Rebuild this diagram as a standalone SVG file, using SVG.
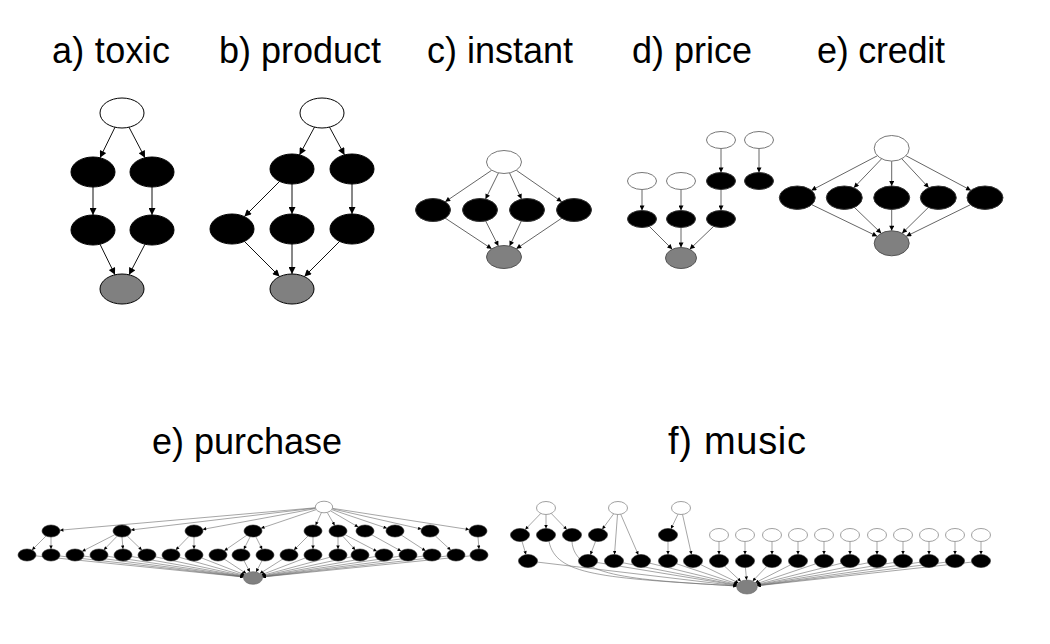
<svg xmlns="http://www.w3.org/2000/svg" width="1050" height="644" viewBox="0 0 1050 644">
<defs>
<style>
.t{font-family:"Liberation Sans",Arial,sans-serif;font-size:36px;fill:#000}
.w{fill:#fff;stroke:#000;stroke-width:1}
.b{fill:#000;stroke:#000;stroke-width:1}
.g{fill:#808080;stroke:#000;stroke-width:1}
.w2{fill:#fff;stroke:#777;stroke-width:1}
.b2{fill:#000;stroke:#333;stroke-width:1}
.g2{fill:#808080;stroke:#555;stroke-width:1}
.w3{fill:#fff;stroke:#888;stroke-width:0.8}
.b3{fill:#000;stroke:#222;stroke-width:0.6}
.g3{fill:#808080;stroke:#666;stroke-width:0.6}
.e1{stroke:#111;stroke-width:1;fill:none;marker-end:url(#ah1)}
.e2{stroke:#666;stroke-width:1;fill:none;marker-end:url(#ah2)}
.e3{stroke:#6a6a6a;stroke-width:0.6;fill:none;marker-end:url(#ah3)}
</style>
<marker id="ah1" viewBox="0 0 10 10" refX="10" refY="5" markerUnits="userSpaceOnUse" markerWidth="10" markerHeight="7" orient="auto"><path d="M0,0 L10,5 L0,10 z" fill="#000"/></marker>
<marker id="ah2" viewBox="0 0 10 10" refX="10" refY="5" markerUnits="userSpaceOnUse" markerWidth="7" markerHeight="5" orient="auto"><path d="M0,0 L10,5 L0,10 z" fill="#000"/></marker>
<marker id="ah3" viewBox="0 0 10 10" refX="10" refY="5" markerUnits="userSpaceOnUse" markerWidth="4.5" markerHeight="3.5" orient="auto"><path d="M0,0 L10,5 L0,10 z" fill="#000"/></marker>
</defs>
<rect width="1050" height="644" fill="#fff"/>

<g id="titles">
<text class="t" x="52" y="63" textLength="118" lengthAdjust="spacing">a) toxic</text>
<text class="t" x="219" y="63" textLength="162" lengthAdjust="spacing">b) product</text>
<text class="t" x="427" y="63" textLength="146" lengthAdjust="spacing">c) instant</text>
<text class="t" x="632" y="63" textLength="120" lengthAdjust="spacing">d) price</text>
<text class="t" x="817" y="63" textLength="128" lengthAdjust="spacing">e) credit</text>
<text class="t" x="152" y="454" textLength="190" lengthAdjust="spacing">e) purchase</text>
<text class="t" x="668" y="454" style="font-size:38px" textLength="138" lengthAdjust="spacing">f) music</text>
</g>

<g id="connectors">
<!-- toxic -->
<line class="e1" x1="115" y1="127.2" x2="100" y2="157.8"/>
<line class="e1" x1="129" y1="127.2" x2="145" y2="157.8"/>
<line class="e1" x1="93" y1="187" x2="93" y2="215"/>
<line class="e1" x1="152" y1="187" x2="152" y2="215"/>
<line class="e1" x1="100" y1="244.2" x2="115" y2="274.8"/>
<line class="e1" x1="145" y1="244.2" x2="129" y2="274.8"/>
<!-- product -->
<line class="e1" x1="314.5" y1="127.1" x2="299.5" y2="154.9"/>
<line class="e1" x1="329.5" y1="127.1" x2="344.5" y2="154.9"/>
<line class="e1" x1="279.6" y1="181.4" x2="244.4" y2="216.6"/>
<line class="e1" x1="292" y1="184" x2="292" y2="214"/>
<line class="e1" x1="352" y1="184" x2="352" y2="214"/>
<line class="e1" x1="244.4" y1="241.4" x2="279.6" y2="276.6"/>
<line class="e1" x1="292" y1="244" x2="292" y2="274"/>
<line class="e1" x1="339.6" y1="241.4" x2="304.4" y2="276.6"/>
<!-- instant -->
<line class="e2" x1="491.8" y1="170.2" x2="445.2" y2="201.8"/>
<line class="e2" x1="498.5" y1="172.9" x2="485.5" y2="199.1"/>
<line class="e2" x1="509.5" y1="172.9" x2="521.5" y2="199.1"/>
<line class="e2" x1="516.2" y1="170.2" x2="561.8" y2="201.8"/>
<line class="e2" x1="445.3" y1="218.2" x2="491.7" y2="248.8"/>
<line class="e2" x1="485.6" y1="220.9" x2="498.4" y2="246.1"/>
<line class="e2" x1="521.4" y1="220.9" x2="509.6" y2="246.1"/>
<line class="e2" x1="561.7" y1="218.2" x2="516.3" y2="248.8"/>
<!-- price -->
<line class="e2" x1="721" y1="148.5" x2="721" y2="172.5"/>
<line class="e2" x1="759" y1="148.5" x2="759" y2="172.5"/>
<line class="e2" x1="721" y1="189.5" x2="721" y2="210.5"/>
<line class="e2" x1="642" y1="189.5" x2="642" y2="210.5"/>
<line class="e2" x1="681" y1="189.5" x2="681" y2="210.5"/>
<line class="e2" x1="649.3" y1="226.3" x2="672.3" y2="249.3"/>
<line class="e2" x1="681" y1="227.5" x2="681" y2="247.5"/>
<line class="e2" x1="713.7" y1="226.3" x2="689.7" y2="249.3"/>
<!-- credit -->
<line class="e2" x1="877.5" y1="155.7" x2="811.3" y2="190.4"/>
<line class="e2" x1="881.6" y1="158.8" x2="853.8" y2="187.8"/>
<line class="e2" x1="891.7" y1="161.1" x2="891.7" y2="186"/>
<line class="e2" x1="901.8" y1="158.8" x2="928.8" y2="187.8"/>
<line class="e2" x1="905.9" y1="155.7" x2="971" y2="190.4"/>
<line class="e2" x1="811.8" y1="204.7" x2="877.2" y2="236.3"/>
<line class="e2" x1="854.4" y1="207.4" x2="881.3" y2="233.3"/>
<line class="e2" x1="891.7" y1="209.4" x2="891.7" y2="230.8"/>
<line class="e2" x1="928.4" y1="207.4" x2="902.1" y2="233.3"/>
<line class="e2" x1="970.5" y1="204.7" x2="906.2" y2="236.3"/>
<!-- purchase: root to row 1 -->
<line class="e3" x1="315.1" y1="507.8" x2="59.9" y2="530.2"/>
<line class="e3" x1="315.1" y1="508.1" x2="130.9" y2="530"/>
<line class="e3" x1="315.3" y1="508.6" x2="202.7" y2="529.4"/>
<line class="e3" x1="316" y1="509.7" x2="261" y2="528.3"/>
<line class="e3" x1="321.4" y1="512.7" x2="315.6" y2="525.3"/>
<line class="e3" x1="327.3" y1="512.6" x2="334.7" y2="525.4"/>
<line class="e3" x1="330.8" y1="511" x2="358.2" y2="527"/>
<line class="e3" x1="332" y1="509.7" x2="387" y2="528.3"/>
<line class="e3" x1="332.5" y1="508.9" x2="421.5" y2="529.1"/>
<line class="e3" x1="332.8" y1="508.4" x2="469.2" y2="529.6"/>
<!-- purchase: row 1 to row 2 -->
<line class="e3" x1="46" y1="536" x2="32" y2="550"/>
<line class="e3" x1="51" y1="537" x2="51" y2="549"/>
<line class="e3" x1="114.9" y1="534.6" x2="82.1" y2="551.4"/>
<line class="e3" x1="117.2" y1="536.1" x2="103.8" y2="549.9"/>
<line class="e3" x1="122" y1="537" x2="123" y2="549"/>
<line class="e3" x1="127.1" y1="535.9" x2="141.9" y2="550.1"/>
<line class="e3" x1="189.2" y1="536.1" x2="175.8" y2="549.9"/>
<line class="e3" x1="194" y1="537" x2="194" y2="549"/>
<line class="e3" x1="246.7" y1="535.3" x2="224.3" y2="550.7"/>
<line class="e3" x1="250.2" y1="536.7" x2="243.8" y2="549.3"/>
<line class="e3" x1="255.8" y1="536.7" x2="262.2" y2="549.3"/>
<line class="e3" x1="308" y1="536" x2="294" y2="550"/>
<line class="e3" x1="313" y1="537" x2="313" y2="549"/>
<line class="e3" x1="338" y1="537" x2="338" y2="549"/>
<line class="e3" x1="342.7" y1="536.1" x2="355.3" y2="549.9"/>
<line class="e3" x1="345.1" y1="534.7" x2="376.9" y2="551.3"/>
<line class="e3" x1="371.9" y1="534.9" x2="401.1" y2="551.1"/>
<line class="e3" x1="401.5" y1="535.2" x2="425.5" y2="550.8"/>
<line class="e3" x1="435.3" y1="535.9" x2="450.7" y2="550.1"/>
<line class="e3" x1="478" y1="537" x2="479" y2="549"/>
<!-- purchase: row 2 to sink -->
<line class="e3" x1="35.9" y1="555.9" x2="243.6" y2="577"/>
<line class="e3" x1="59.9" y1="556" x2="243.6" y2="576.9"/>
<line class="e3" x1="83.8" y1="556.1" x2="243.7" y2="576.8"/>
<line class="e3" x1="107.8" y1="556.3" x2="243.7" y2="576.6"/>
<line class="e3" x1="131.7" y1="556.5" x2="243.8" y2="576.4"/>
<line class="e3" x1="155.6" y1="556.9" x2="244" y2="576"/>
<line class="e3" x1="179.3" y1="557.3" x2="244.3" y2="575.5"/>
<line class="e3" x1="201.8" y1="558" x2="244.8" y2="574.8"/>
<line class="e3" x1="224.4" y1="559.2" x2="246.3" y2="573.6"/>
<line class="e3" x1="244" y1="560.7" x2="249.9" y2="572"/>
<line class="e3" x1="262" y1="560.7" x2="256.1" y2="572"/>
<line class="e3" x1="282.5" y1="559.2" x2="259.8" y2="573.6"/>
<line class="e3" x1="305.2" y1="558" x2="261.2" y2="574.9"/>
<line class="e3" x1="329.7" y1="557.3" x2="261.8" y2="575.6"/>
<line class="e3" x1="351.4" y1="556.8" x2="262" y2="576.1"/>
<line class="e3" x1="375.3" y1="556.5" x2="262.2" y2="576.4"/>
<line class="e3" x1="399.2" y1="556.3" x2="262.3" y2="576.6"/>
<line class="e3" x1="423.2" y1="556.1" x2="262.3" y2="576.8"/>
<line class="e3" x1="447.1" y1="556" x2="262.4" y2="576.9"/>
<line class="e3" x1="470.1" y1="555.9" x2="262.4" y2="577"/>
<!-- music -->
<line class="e3" x1="540.8" y1="513.4" x2="525.2" y2="529.6"/>
<line class="e3" x1="546" y1="514.5" x2="546" y2="528.5"/>
<line class="e3" x1="551.2" y1="513.4" x2="566.8" y2="529.6"/>
<line class="e3" x1="522" y1="541.4" x2="526" y2="554.6"/>
<path class="e3" d="M549,541.5 C556,575 600,578 737,586"/>
<path class="e3" d="M572,541.5 C574,578 640,580 737,586"/>
<line class="e3" x1="613.7" y1="513.8" x2="602.3" y2="529.2"/>
<line class="e3" x1="617.5" y1="514.5" x2="614.5" y2="554.5"/>
<line class="e3" x1="620.7" y1="514.2" x2="638.3" y2="554.8"/>
<line class="e3" x1="595.6" y1="541.3" x2="590.4" y2="554.7"/>
<line class="e3" x1="678" y1="514.2" x2="671" y2="528.8"/>
<line class="e3" x1="682.5" y1="514.4" x2="691.5" y2="554.6"/>
<line class="e3" x1="668" y1="541.5" x2="668" y2="554.5"/>
<line class="e3" x1="719" y1="541.5" x2="719" y2="554.5"/>
<line class="e3" x1="745" y1="541.5" x2="745" y2="554.5"/>
<line class="e3" x1="772" y1="541.5" x2="772" y2="554.5"/>
<line class="e3" x1="798" y1="541.5" x2="798" y2="554.5"/>
<line class="e3" x1="824" y1="541.5" x2="824" y2="554.5"/>
<line class="e3" x1="850" y1="541.5" x2="850" y2="554.5"/>
<line class="e3" x1="877" y1="541.5" x2="877" y2="554.5"/>
<line class="e3" x1="903" y1="541.5" x2="903" y2="554.5"/>
<line class="e3" x1="929" y1="541.5" x2="929" y2="554.5"/>
<line class="e3" x1="955" y1="541.5" x2="955" y2="554.5"/>
<line class="e3" x1="981" y1="541.5" x2="981" y2="554.5"/>
<line class="e3" x1="537.4" y1="562.1" x2="736.9" y2="585.8"/>
<line class="e3" x1="597.2" y1="562.5" x2="737" y2="585.4"/>
<line class="e3" x1="623.1" y1="562.8" x2="737.1" y2="585.1"/>
<line class="e3" x1="649.9" y1="563.2" x2="737.3" y2="584.6"/>
<line class="e3" x1="676.6" y1="563.8" x2="737.7" y2="584"/>
<line class="e3" x1="700.8" y1="564.7" x2="738.6" y2="583"/>
<line class="e3" x1="724.6" y1="566.2" x2="740.9" y2="581.4"/>
<line class="e3" x1="745.4" y1="567.5" x2="746.6" y2="580"/>
<line class="e3" x1="766.8" y1="566.4" x2="752.6" y2="581.1"/>
<line class="e3" x1="790.4" y1="564.9" x2="755.2" y2="582.8"/>
<line class="e3" x1="815.5" y1="563.9" x2="756.2" y2="583.9"/>
<line class="e3" x1="841.1" y1="563.3" x2="756.7" y2="584.6"/>
<line class="e3" x1="867.9" y1="562.8" x2="756.9" y2="585"/>
<line class="e3" x1="893.8" y1="562.5" x2="757" y2="585.3"/>
<line class="e3" x1="919.7" y1="562.3" x2="757.1" y2="585.6"/>
<line class="e3" x1="945.7" y1="562.2" x2="757.1" y2="585.7"/>
<line class="e3" x1="971.6" y1="562.1" x2="757.2" y2="585.8"/>
</g>

<!-- a) toxic -->
<g id="toxic-root"><ellipse class="w" cx="122" cy="113" rx="22" ry="15"/></g>
<g id="toxic-n1"><ellipse class="b" cx="93" cy="172" rx="22" ry="15"/></g>
<g id="toxic-n2"><ellipse class="b" cx="152" cy="172" rx="22" ry="15"/></g>
<g id="toxic-n3"><ellipse class="b" cx="93" cy="230" rx="22" ry="15"/></g>
<g id="toxic-n4"><ellipse class="b" cx="152" cy="230" rx="22" ry="15"/></g>
<g id="toxic-sink"><ellipse class="g" cx="122" cy="289" rx="22" ry="15"/></g>

<!-- b) product -->
<g id="product-root"><ellipse class="w" cx="322" cy="113" rx="22" ry="15"/></g>
<g id="product-n1"><ellipse class="b" cx="292" cy="169" rx="22" ry="15"/></g>
<g id="product-n2"><ellipse class="b" cx="352" cy="169" rx="22" ry="15"/></g>
<g id="product-n3"><ellipse class="b" cx="232" cy="229" rx="22" ry="15"/></g>
<g id="product-n4"><ellipse class="b" cx="292" cy="229" rx="22" ry="15"/></g>
<g id="product-n5"><ellipse class="b" cx="352" cy="229" rx="22" ry="15"/></g>
<g id="product-sink"><ellipse class="g" cx="292" cy="289" rx="22" ry="15"/></g>

<!-- c) instant -->
<g id="instant-root"><ellipse class="w2" cx="504" cy="162" rx="17.5" ry="11.5"/></g>
<g id="instant-n1"><ellipse class="b2" cx="433" cy="210" rx="17.5" ry="11.5"/></g>
<g id="instant-n2"><ellipse class="b2" cx="480" cy="210" rx="17.5" ry="11.5"/></g>
<g id="instant-n3"><ellipse class="b2" cx="527" cy="210" rx="17.5" ry="11.5"/></g>
<g id="instant-n4"><ellipse class="b2" cx="574" cy="210" rx="17.5" ry="11.5"/></g>
<g id="instant-sink"><ellipse class="g2" cx="504" cy="257" rx="17.5" ry="11.5"/></g>

<!-- d) price -->
<g id="price-w1"><ellipse class="w2" cx="721" cy="140" rx="14.5" ry="8.5"/></g>
<g id="price-w2"><ellipse class="w2" cx="759" cy="140" rx="14.5" ry="8.5"/></g>
<g id="price-b1"><ellipse class="b2" cx="721" cy="181" rx="14.5" ry="8.5"/></g>
<g id="price-b2"><ellipse class="b2" cx="759" cy="181" rx="14.5" ry="8.5"/></g>
<g id="price-w3"><ellipse class="w2" cx="642" cy="181" rx="14.5" ry="8.5"/></g>
<g id="price-w4"><ellipse class="w2" cx="681" cy="181" rx="14.5" ry="8.5"/></g>
<g id="price-b3"><ellipse class="b2" cx="642" cy="219" rx="14.5" ry="8.5"/></g>
<g id="price-b4"><ellipse class="b2" cx="681" cy="219" rx="14.5" ry="8.5"/></g>
<g id="price-b5"><ellipse class="b2" cx="721" cy="219" rx="14.5" ry="8.5"/></g>
<g id="price-sink"><ellipse class="g2" cx="681" cy="258" rx="15.5" ry="10.5"/></g>

<!-- e) credit -->
<g id="credit-root"><ellipse class="w2" cx="891.7" cy="148.3" rx="17.5" ry="12.8"/></g>
<g id="credit-n1"><ellipse class="b2" cx="797.3" cy="197.7" rx="18" ry="11.7"/></g>
<g id="credit-n2"><ellipse class="b2" cx="844.3" cy="197.7" rx="18" ry="11.7"/></g>
<g id="credit-n3"><ellipse class="b2" cx="891.7" cy="197.7" rx="18" ry="11.7"/></g>
<g id="credit-n4"><ellipse class="b2" cx="938.3" cy="197.7" rx="18" ry="11.7"/></g>
<g id="credit-n5"><ellipse class="b2" cx="985" cy="197.7" rx="18" ry="11.7"/></g>
<g id="credit-sink"><ellipse class="g2" cx="891.7" cy="243.3" rx="17.5" ry="12.5"/></g>

<!-- e) purchase -->
<g id="purchase-root"><ellipse class="w3" cx="324" cy="507" rx="8.7" ry="5.8"/></g>
<g id="purchase-r1">
<ellipse class="b3" cx="51" cy="531" rx="9" ry="6"/>
<ellipse class="b3" cx="122" cy="531" rx="9" ry="6"/>
<ellipse class="b3" cx="194" cy="531" rx="9" ry="6"/>
<ellipse class="b3" cx="253" cy="531" rx="9" ry="6"/>
<ellipse class="b3" cx="313" cy="531" rx="9" ry="6"/>
<ellipse class="b3" cx="338" cy="531" rx="9" ry="6"/>
<ellipse class="b3" cx="365" cy="531" rx="9" ry="6"/>
<ellipse class="b3" cx="395" cy="531" rx="9" ry="6"/>
<ellipse class="b3" cx="430" cy="531" rx="9" ry="6"/>
<ellipse class="b3" cx="478" cy="531" rx="9" ry="6"/>
</g>
<g id="purchase-r2">
<ellipse class="b3" cx="27" cy="555" rx="9" ry="6"/>
<ellipse class="b3" cx="51" cy="555" rx="9" ry="6"/>
<ellipse class="b3" cx="75" cy="555" rx="9" ry="6"/>
<ellipse class="b3" cx="99" cy="555" rx="9" ry="6"/>
<ellipse class="b3" cx="123" cy="555" rx="9" ry="6"/>
<ellipse class="b3" cx="147" cy="555" rx="9" ry="6"/>
<ellipse class="b3" cx="171" cy="555" rx="9" ry="6"/>
<ellipse class="b3" cx="194" cy="555" rx="9" ry="6"/>
<ellipse class="b3" cx="218" cy="555" rx="9" ry="6"/>
<ellipse class="b3" cx="241" cy="555" rx="9" ry="6"/>
<ellipse class="b3" cx="265" cy="555" rx="9" ry="6"/>
<ellipse class="b3" cx="289" cy="555" rx="9" ry="6"/>
<ellipse class="b3" cx="313" cy="555" rx="9" ry="6"/>
<ellipse class="b3" cx="338" cy="555" rx="9" ry="6"/>
<ellipse class="b3" cx="360" cy="555" rx="9" ry="6"/>
<ellipse class="b3" cx="384" cy="555" rx="9" ry="6"/>
<ellipse class="b3" cx="408" cy="555" rx="9" ry="6"/>
<ellipse class="b3" cx="432" cy="555" rx="9" ry="6"/>
<ellipse class="b3" cx="456" cy="555" rx="9" ry="6"/>
<ellipse class="b3" cx="479" cy="555" rx="9" ry="6"/>
</g>
<g id="purchase-sink"><ellipse class="g3" cx="253" cy="578" rx="9.5" ry="6.3"/></g>

<!-- f) music -->
<g id="music-wa"><ellipse class="w3" cx="546" cy="508" rx="9.5" ry="6.5"/></g>
<g id="music-wb"><ellipse class="w3" cx="618" cy="508" rx="9.5" ry="6.5"/></g>
<g id="music-wc"><ellipse class="w3" cx="681" cy="508" rx="9.5" ry="6.5"/></g>
<g id="music-r1">
<ellipse class="b3" cx="520" cy="535" rx="9.5" ry="6.5"/>
<ellipse class="b3" cx="546" cy="535" rx="9.5" ry="6.5"/>
<ellipse class="b3" cx="572" cy="535" rx="9.5" ry="6.5"/>
<ellipse class="b3" cx="598" cy="535" rx="9.5" ry="6.5"/>
<ellipse class="b3" cx="668" cy="535" rx="9.5" ry="6.5"/>
<ellipse class="w3" cx="719" cy="535" rx="9.5" ry="6.5"/>
<ellipse class="w3" cx="745" cy="535" rx="9.5" ry="6.5"/>
<ellipse class="w3" cx="772" cy="535" rx="9.5" ry="6.5"/>
<ellipse class="w3" cx="798" cy="535" rx="9.5" ry="6.5"/>
<ellipse class="w3" cx="824" cy="535" rx="9.5" ry="6.5"/>
<ellipse class="w3" cx="850" cy="535" rx="9.5" ry="6.5"/>
<ellipse class="w3" cx="877" cy="535" rx="9.5" ry="6.5"/>
<ellipse class="w3" cx="903" cy="535" rx="9.5" ry="6.5"/>
<ellipse class="w3" cx="929" cy="535" rx="9.5" ry="6.5"/>
<ellipse class="w3" cx="955" cy="535" rx="9.5" ry="6.5"/>
<ellipse class="w3" cx="981" cy="535" rx="9.5" ry="6.5"/>
</g>
<g id="music-r2">
<ellipse class="b3" cx="528" cy="561" rx="9.5" ry="6.5"/>
<ellipse class="b3" cx="588" cy="561" rx="9.5" ry="6.5"/>
<ellipse class="b3" cx="614" cy="561" rx="9.5" ry="6.5"/>
<ellipse class="b3" cx="641" cy="561" rx="9.5" ry="6.5"/>
<ellipse class="b3" cx="668" cy="561" rx="9.5" ry="6.5"/>
<ellipse class="b3" cx="693" cy="561" rx="9.5" ry="6.5"/>
<ellipse class="b3" cx="719" cy="561" rx="9.5" ry="6.5"/>
<ellipse class="b3" cx="745" cy="561" rx="9.5" ry="6.5"/>
<ellipse class="b3" cx="772" cy="561" rx="9.5" ry="6.5"/>
<ellipse class="b3" cx="798" cy="561" rx="9.5" ry="6.5"/>
<ellipse class="b3" cx="824" cy="561" rx="9.5" ry="6.5"/>
<ellipse class="b3" cx="850" cy="561" rx="9.5" ry="6.5"/>
<ellipse class="b3" cx="877" cy="561" rx="9.5" ry="6.5"/>
<ellipse class="b3" cx="903" cy="561" rx="9.5" ry="6.5"/>
<ellipse class="b3" cx="929" cy="561" rx="9.5" ry="6.5"/>
<ellipse class="b3" cx="955" cy="561" rx="9.5" ry="6.5"/>
<ellipse class="b3" cx="981" cy="561" rx="9.5" ry="6.5"/>
</g>
<g id="music-sink"><ellipse class="g3" cx="747" cy="587" rx="10.3" ry="7"/></g>
</svg>
